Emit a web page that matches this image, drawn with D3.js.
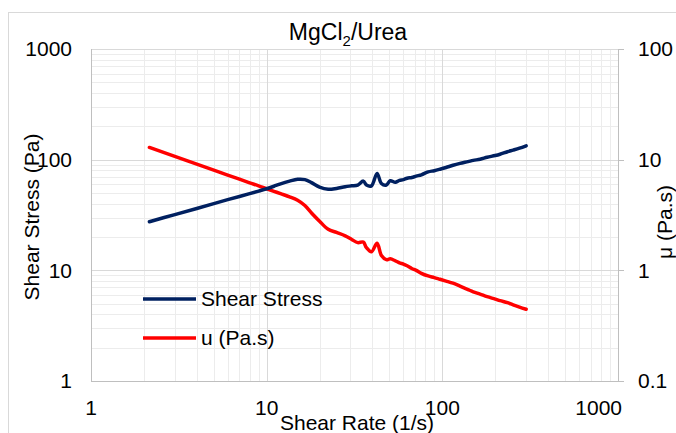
<!DOCTYPE html>
<html>
<head>
<meta charset="utf-8">
<script src="https://cdn.jsdelivr.net/npm/d3@7"></script>
<style>
  body { margin: 0; background: #fff; }
  text { font-family: "Liberation Sans", Arial, sans-serif; fill: #000; }
</style>
</head>
<body>
<svg id="chart" width="676" height="433"></svg>
<script>
// values
var shearRate = [2.15, 3, 4, 5, 6, 7, 8, 9, 10, 11, 12, 13.5, 15, 16.5, 18, 20, 22.4, 25, 28, 30.5,
  33, 35.5, 37, 39.5, 42.5, 45, 48, 50.5, 54, 57, 60, 63, 67, 71, 76, 83, 90, 97, 105, 115,
  126, 140, 150, 164, 180, 200, 213, 235, 253, 275, 300];
var shearStress = [27.5, 31.9, 36.2, 40.1, 43.5, 46.5, 49.4, 52, 54.6, 57.5, 60.5, 64, 66.5, 66, 62, 56.5, 54, 55, 57, 58,
  59, 64, 59, 58, 75, 61, 59, 64.5, 62.5, 65, 66, 68, 69, 71, 73, 77.5, 79.5, 82, 85, 89,
  92.5, 96, 98.5, 101, 105, 109, 112, 118, 122, 127, 133.5];
var viscosity = [12.9, 10.7, 9.12, 8.04, 7.26, 6.66, 6.18, 5.8, 5.46, 5.18, 4.93, 4.62, 4.3, 3.85, 3.3, 2.78, 2.35, 2.2, 2.05, 1.9,
  1.78, 1.8, 1.6, 1.47, 1.76, 1.36, 1.25, 1.27, 1.22, 1.17, 1.14, 1.1, 1.04, 1.0, 0.94, 0.89, 0.86, 0.83, 0.8, 0.765,
  0.72, 0.67, 0.64, 0.61, 0.578, 0.55, 0.532, 0.51, 0.487, 0.465, 0.445];

var xTicks = [1, 10, 100, 1000];
var yLeftTicks = [1, 10, 100, 1000];
var yRightTicks = [0.1, 1, 10, 100];

var margin = {top: 49, right: 58, bottom: 52, left: 91};
var width = 676 - margin.left - margin.right;
var height = 433 - margin.top - margin.bottom;

var svg = d3.select("#chart");

// outer chart border
svg.append("rect")
  .attr("x", 8.5).attr("y", 12.5)
  .attr("width", 700).attr("height", 440)
  .attr("fill", "none")
  .attr("stroke", "#d9d9d9");

var g = svg.append("g")
  .attr("transform", "translate(" + margin.left + "," + margin.top + ")");

var x = d3.scaleLog().domain([1, 1000]).range([0, width]);
var yL = d3.scaleLog().domain([1, 1000]).range([height, 0]);
var yR = d3.scaleLog().domain([0.1, 100]).range([height, 0]);

// minor + major grid
var minorX = [], minorY = [];
[1, 10, 100].forEach(function(d) {
  for (var k = 2; k <= 9; k++) { minorX.push(d * k); minorY.push(d * k); }
});

g.selectAll(".gx-minor").data(minorX).enter().append("line")
  .attr("x1", function(d) { return Math.round(x(d)) + 0.5; })
  .attr("x2", function(d) { return Math.round(x(d)) + 0.5; })
  .attr("y1", 0).attr("y2", height)
  .attr("stroke", "#ececec");
g.selectAll(".gy-minor").data(minorY).enter().append("line")
  .attr("y1", function(d) { return Math.round(yL(d)) + 0.5; })
  .attr("y2", function(d) { return Math.round(yL(d)) + 0.5; })
  .attr("x1", 0).attr("x2", width)
  .attr("stroke", "#ececec");
g.selectAll(".gx-major").data(xTicks.slice(1, 3)).enter().append("line")
  .attr("x1", function(d) { return Math.round(x(d)) + 0.5; })
  .attr("x2", function(d) { return Math.round(x(d)) + 0.5; })
  .attr("y1", 0).attr("y2", height)
  .attr("stroke", "#d9d9d9");
g.selectAll(".gy-major").data(yLeftTicks.slice(1)).enter().append("line")
  .attr("y1", function(d) { return Math.round(yL(d)) + 0.5; })
  .attr("y2", function(d) { return Math.round(yL(d)) + 0.5; })
  .attr("x1", 0).attr("x2", width)
  .attr("stroke", "#d9d9d9");

// axis lines
g.append("line").attr("x1", 0.5).attr("x2", 0.5).attr("y1", 0).attr("y2", height).attr("stroke", "#bfbfbf");
g.append("line").attr("x1", 0).attr("x2", width).attr("y1", height + 0.5).attr("y2", height + 0.5).attr("stroke", "#bfbfbf");
g.append("line").attr("x1", width + 0.5).attr("x2", width + 0.5).attr("y1", 0).attr("y2", height).attr("stroke", "#bfbfbf");
g.selectAll(".rtick").data(yRightTicks).enter().append("line")
  .attr("x1", width).attr("x2", width + 6)
  .attr("y1", function(d) { return Math.round(yR(d)) + 0.5; })
  .attr("y2", function(d) { return Math.round(yR(d)) + 0.5; })
  .attr("stroke", "#bfbfbf");

// tick labels
g.selectAll(".xl").data(xTicks).enter().append("text")
  .attr("x", function(d, i) { return i === xTicks.length - 1 ? x(d) + 4 : x(d); })
  .attr("y", height + 34)
  .attr("text-anchor", function(d, i) { return i === xTicks.length - 1 ? "end" : "middle"; })
  .style("font-size", "21px")
  .text(function(d) { return d; });
g.selectAll(".yl").data(yLeftTicks).enter().append("text")
  .attr("x", -19)
  .attr("y", function(d) { return yL(d); })
  .attr("dy", "0.35em")
  .attr("text-anchor", "end")
  .style("font-size", "21px")
  .text(function(d) { return d; });
g.selectAll(".yr").data(yRightTicks).enter().append("text")
  .attr("x", width + 20)
  .attr("y", function(d) { return yR(d); })
  .attr("dy", "0.35em")
  .style("font-size", "21px")
  .text(function(d) { return d; });

// series
var lineL = d3.line()
  .x(function(d, i) { return x(shearRate[i]); })
  .y(function(d) { return yL(d); })
  .curve(d3.curveCatmullRom);
var lineR = d3.line()
  .x(function(d, i) { return x(shearRate[i]); })
  .y(function(d) { return yR(d); })
  .curve(d3.curveCatmullRom);

g.append("path").datum(viscosity)
  .attr("d", lineR)
  .attr("fill", "none").attr("stroke", "#ff0000").attr("stroke-width", 3.5)
  .attr("stroke-linejoin", "round").attr("stroke-linecap", "round");
g.append("path").datum(shearStress)
  .attr("d", lineL)
  .attr("fill", "none").attr("stroke", "#002060").attr("stroke-width", 3.5)
  .attr("stroke-linejoin", "round").attr("stroke-linecap", "round");

// titles
var title = svg.append("text")
  .attr("x", 348).attr("y", 40)
  .attr("text-anchor", "middle")
  .style("font-size", "23px");
title.append("tspan").text("MgCl");
title.append("tspan").attr("dy", 6).style("font-size", "15px").text("2");
title.append("tspan").attr("dy", -6).text("/Urea");

svg.append("text")
  .attr("x", 357).attr("y", 430)
  .attr("text-anchor", "middle")
  .style("font-size", "21px")
  .text("Shear Rate (1/s)");

svg.append("text")
  .attr("transform", "translate(39,217) rotate(-90)")
  .attr("text-anchor", "middle")
  .style("font-size", "21px")
  .text("Shear Stress (Pa)");

svg.append("text")
  .attr("transform", "translate(672,222) rotate(-90)")
  .attr("text-anchor", "middle")
  .style("font-size", "21px")
  .text("\u03bc (Pa.s)");

// legend
var legendItems = [
  {label: "Shear Stress", color: "#002060"},
  {label: "u (Pa.s)", color: "#ff0000"}
];
var lg = svg.selectAll(".legend").data(legendItems).enter().append("g")
  .attr("transform", function(d, i) { return "translate(143," + (299 + i * 39) + ")"; });
lg.append("line")
  .attr("x1", 0).attr("x2", 53).attr("y1", 0).attr("y2", 0)
  .attr("stroke", function(d) { return d.color; })
  .attr("stroke-width", 3.5);
lg.append("text")
  .attr("x", 58).attr("dy", "0.35em")
  .style("font-size", "21px")
  .text(function(d) { return d.label; });
</script>
</body>
</html>
